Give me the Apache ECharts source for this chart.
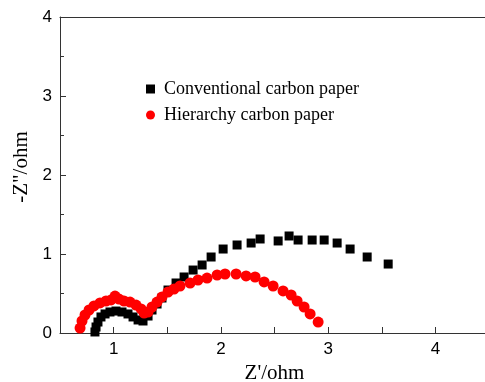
<!DOCTYPE html>
<html>
<head>
<meta charset="utf-8">
<script src="https://cdn.jsdelivr.net/npm/echarts@6/dist/echarts.min.js"></script>
<style>html,body{margin:0;padding:0;background:#fff;}#c{width:485px;height:382px;}</style>
</head>
<body>
<div id="c"></div>
<script>
var seriesNames = ['Conventional carbon paper', 'Hierarchy carbon paper'];
var conventionalX = [0.826,0.836,0.854,0.882,0.920,0.966,1.022,1.078,1.134,1.181,1.228,1.274,1.321,1.358,1.405,1.451,1.507,1.582,1.657,1.741,1.825,1.909,2.021,2.151,2.282,2.366,2.534,2.636,2.720,2.851,2.963,3.084,3.205,3.364,3.560];
var conventionalY = [0.013,0.076,0.139,0.203,0.241,0.266,0.278,0.266,0.241,0.203,0.165,0.152,0.215,0.291,0.367,0.443,0.544,0.633,0.709,0.797,0.861,0.962,1.063,1.114,1.139,1.190,1.165,1.228,1.177,1.177,1.177,1.139,1.063,0.962,0.873];
var hierarchyX = [0.687,0.705,0.733,0.771,0.817,0.873,0.929,0.976,1.013,1.050,1.097,1.153,1.209,1.256,1.284,1.321,1.358,1.405,1.451,1.507,1.563,1.619,1.713,1.787,1.871,1.965,2.039,2.142,2.235,2.319,2.403,2.487,2.580,2.655,2.711,2.776,2.832,2.907];
var hierarchyY = [0.063,0.152,0.228,0.291,0.342,0.380,0.405,0.418,0.468,0.430,0.405,0.392,0.354,0.304,0.253,0.266,0.329,0.392,0.456,0.519,0.557,0.595,0.633,0.671,0.696,0.734,0.747,0.747,0.722,0.709,0.646,0.595,0.532,0.481,0.405,0.329,0.241,0.139];
var xTicks = [1,2,3,4];
var yTicks = [0,1,2,3,4];

function pairs(xs, ys){ return xs.map(function(x,i){ return [x, ys[i]]; }); }

var chart = echarts.init(document.getElementById('c'));
var axisColor = '#333';
chart.setOption({
  animation: false,
  grid: { left: 60, top: 17, right: -4, bottom: 49, containLabel: false, outerBoundsMode: 'none' },
  legend: {
    left: 141, top: 75, orient: 'vertical', itemGap: 8,
    itemWidth: 9, itemHeight: 9,
    textStyle: { fontFamily: 'Liberation Serif', fontSize: 18, color: '#000', padding: [0,0,0,4] },
    data: [
      { name: seriesNames[0], icon: 'rect' },
      { name: seriesNames[1], icon: 'circle' }
    ]
  },
  xAxis: [{
    type: 'value', min: 0.5, max: 4.5, interval: 0.5,
    name: "Z'/ohm", nameLocation: 'middle', nameGap: 30,
    nameTextStyle: { fontFamily: 'Liberation Serif', fontSize: 21, color: '#000' },
    axisLine: { show: true, lineStyle: { color: axisColor, width: 1 } },
    axisTick: { show: true, inside: true, length: 6, lineStyle: { color: axisColor },
      interval: 0 },
    splitLine: { show: false },
    axisLabel: { fontFamily: 'Liberation Sans', fontSize: 17, color: '#000', margin: 8,
      formatter: function(v){ return xTicks.indexOf(v) >= 0 ? String(v) : ''; } }
  }, {
    type: 'value', position: 'top', min: 0.5, max: 4.5,
    axisLine: { show: true, lineStyle: { color: axisColor, width: 1 } },
    axisTick: { show: false }, axisLabel: { show: false }, splitLine: { show: false }
  }],
  yAxis: {
    type: 'value', min: 0, max: 4, interval: 1,
    name: '-Z"/ohm', nameLocation: 'middle', nameGap: 21,
    nameTextStyle: { fontFamily: 'Liberation Serif', fontSize: 21, color: '#000', padding: [0,0,0,16] },
    axisLine: { show: true, lineStyle: { color: axisColor, width: 1 } },
    axisTick: { show: true, inside: true, length: 6, lineStyle: { color: axisColor } },
    minorTick: { show: true, splitNumber: 2, length: 4, lineStyle: { color: axisColor } },
    splitLine: { show: false },
    axisLabel: { fontFamily: 'Liberation Sans', fontSize: 17, color: '#000', margin: 8,
      formatter: function(v){ return yTicks.indexOf(v) >= 0 ? String(v) : ''; } }
  },
  series: [{
    name: seriesNames[0], type: 'scatter', symbol: 'rect', symbolSize: 9,
    itemStyle: { color: '#000', opacity: 1 }, data: pairs(conventionalX, conventionalY), z: 2
  }, {
    name: seriesNames[1], type: 'scatter', symbol: 'circle', symbolSize: 11,
    itemStyle: { color: '#ff0000', opacity: 1 }, data: pairs(hierarchyX, hierarchyY), z: 3
  }]
});
</script>
</body>
</html>
